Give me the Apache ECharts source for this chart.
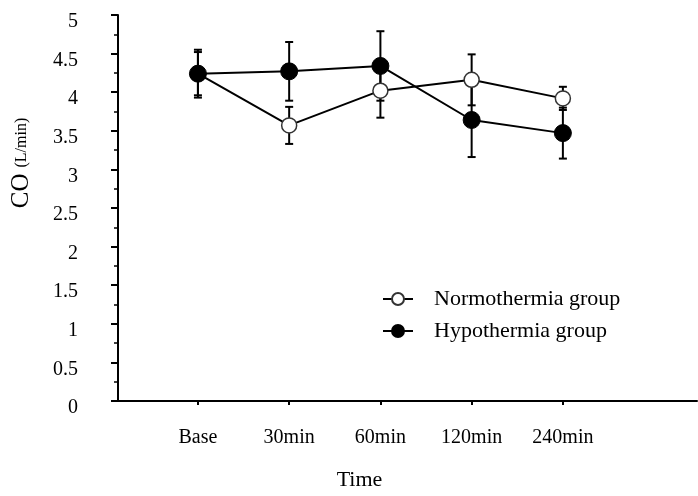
<!DOCTYPE html>
<html>
<head>
<meta charset="utf-8">
<script src="https://cdn.jsdelivr.net/npm/echarts@6/dist/echarts.min.js"></script>
<style>
html, body { margin: 0; padding: 0; background: #fff; }
#chart { width: 698px; height: 496px; }
</style>
</head>
<body>
<div id="chart"></div>
<script>
// values
const categories = ['Base', '30min', '60min', '120min', '240min']
const normMean = [4.24, 3.57, 4.02, 4.16, 3.92]
const normErr = [0.28, 0.24, 0.35, 0.33, 0.15]
const hypoMean = [4.24, 4.27, 4.34, 3.64, 3.47]
const hypoErr = [0.31, 0.38, 0.45, 0.48, 0.33]

const FONT = "'Liberation Serif', 'Times New Roman', serif"

function points (means) {
  return means.map((v, i) => [i, v])
}
function bars (means, errs) {
  return means.map((v, i) => [i, v - errs[i], v + errs[i]])
}

function renderErr (params, api) {
  const x = api.value(0)
  const lo = api.coord([x, api.value(1)])
  const hi = api.coord([x, api.value(2)])
  const half = 4
  const style = { stroke: '#000', lineWidth: 2 }
  return {
    type: 'group',
    children: [
      { type: 'line', shape: { x1: lo[0], y1: lo[1], x2: hi[0], y2: hi[1] }, style: style },
      { type: 'line', shape: { x1: hi[0] - half, y1: hi[1], x2: hi[0] + half, y2: hi[1] }, style: style },
      { type: 'line', shape: { x1: lo[0] - half, y1: lo[1], x2: lo[0] + half, y2: lo[1] }, style: style }
    ]
  }
}

const chart = echarts.init(document.getElementById('chart'))
chart.setOption({
  animation: false,
  textStyle: { fontFamily: FONT, color: '#000' },
  grid: { left: 118, right: 1, top: 15, bottom: 92 },
  legend: {
    data: ['Normothermia group', 'Hypothermia group'],
    orient: 'vertical',
    left: 377,
    top: 283,
    itemWidth: 30,
    itemHeight: 15,
    itemGap: 10,
    textStyle: { fontFamily: FONT, fontSize: 22, color: '#000', padding: [0, 0, 0, 16] }
  },
  xAxis: {
    type: 'value',
    min: -0.876,
    max: 5.47,
    name: 'Time',
    nameLocation: 'middle',
    nameGap: 68,
    nameTextStyle: { fontFamily: FONT, fontSize: 22, color: '#000', padding: [0, 96, 0, 0] },
    splitLine: { show: false },
    axisLine: { onZero: false, lineStyle: { color: '#000', width: 2 } },
    axisTick: { customValues: [0, 1, 2, 3, 4], length: 4, lineStyle: { color: '#000', width: 2 } },
    axisLabel: {
      customValues: [0, 1, 2, 3, 4],
      formatter: v => categories[Math.round(v)],
      margin: 27,
      fontFamily: FONT,
      fontSize: 20,
      color: '#000'
    }
  },
  yAxis: {
    type: 'value',
    min: 0,
    max: 5,
    interval: 0.5,
    name: '{a|CO}  {b|(L/min)}',
    nameLocation: 'middle',
    nameRotate: 90,
    nameGap: 84,
    nameTextStyle: {
      padding: [0, 0, 0, 90],
      rich: {
        a: { fontFamily: FONT, fontSize: 25, color: '#000' },
        b: { fontFamily: FONT, fontSize: 16, color: '#000' }
      }
    },
    splitLine: { show: false },
    axisLine: { show: true, onZero: false, lineStyle: { color: '#000', width: 2 } },
    axisTick: { show: true, length: 7, lineStyle: { color: '#000', width: 2 } },
    minorTick: { show: true, splitNumber: 2, length: 4, lineStyle: { color: '#000', width: 1.5 } },
    axisLabel: {
      margin: 40,
      verticalAlign: 'top',
      padding: [-3, 0, 0, 0],
      fontFamily: FONT,
      fontSize: 20,
      color: '#000'
    }
  },
  series: [
    {
      name: 'Normothermia error',
      type: 'custom',
      renderItem: renderErr,
      data: bars(normMean, normErr),
      encode: { x: 0, y: [1, 2] },
      z: 1
    },
    {
      name: 'Hypothermia error',
      type: 'custom',
      renderItem: renderErr,
      data: bars(hypoMean, hypoErr),
      encode: { x: 0, y: [1, 2] },
      z: 1
    },
    {
      name: 'Normothermia group',
      type: 'line',
      data: points(normMean),
      symbol: 'circle',
      symbolSize: 15,
      lineStyle: { color: '#000', width: 2 },
      itemStyle: { color: '#fff', borderColor: '#333', borderWidth: 1.5 },
      z: 3
    },
    {
      name: 'Hypothermia group',
      type: 'line',
      data: points(hypoMean),
      symbol: 'circle',
      symbolSize: 17,
      lineStyle: { color: '#000', width: 2 },
      itemStyle: { color: '#000', borderColor: '#000', borderWidth: 1 },
      z: 4
    }
  ]
})
</script>
</body>
</html>
